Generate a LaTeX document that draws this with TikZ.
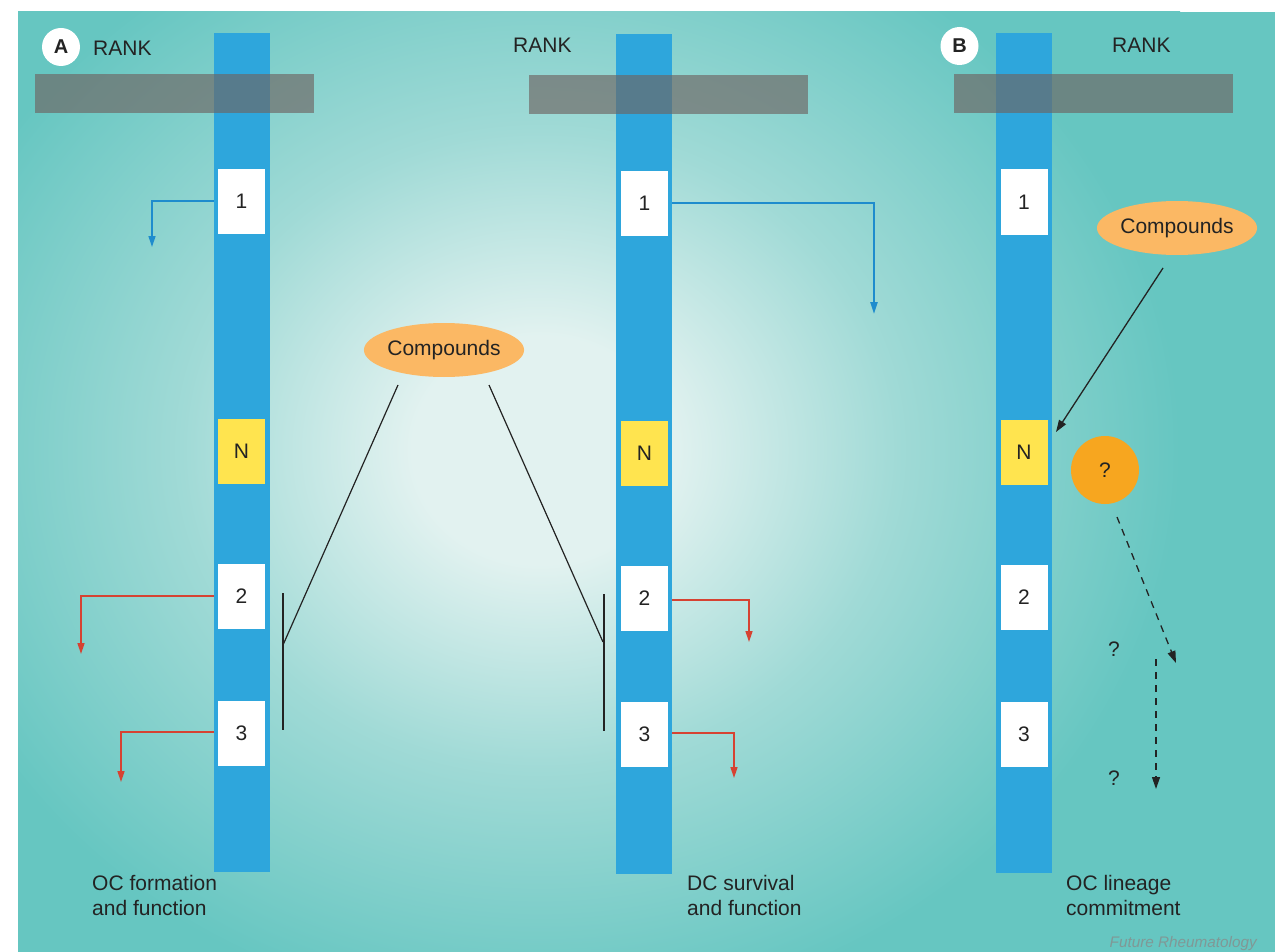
\documentclass[tikz,border=0pt]{standalone}
\usepackage{fontspec}
\setmainfont{Liberation Sans}
\usetikzlibrary{arrows.meta,shapes.geometric}

\definecolor{tealbg}{RGB}{102,198,193}
\definecolor{tealmid}{RGB}{160,218,214}
\definecolor{glowc}{RGB}{226,242,240}
\definecolor{barblue}{RGB}{46,166,220}
\definecolor{lineblue}{RGB}{30,140,205}
\definecolor{nyellow}{RGB}{255,228,79}
\definecolor{cmpdorange}{RGB}{251,184,100}
\definecolor{qorange}{RGB}{247,166,31}
\definecolor{redline}{RGB}{214,66,50}
\definecolor{bandgray}{RGB}{110,100,98}
\definecolor{txt}{RGB}{35,35,35}
\definecolor{creditgray}{RGB}{128,152,150}

\pgfdeclareradialshading{glow}{\pgfpoint{0bp}{0bp}}{%
  color(0bp)=(glowc); color(5bp)=(glowc); color(14bp)=(tealmid);
  color(25bp)=(tealbg); color(50bp)=(tealbg)}

\tikzset{
  bar/.style={fill=barblue, minimum width=56pt, inner sep=0pt, draw=none},
  band/.style={fill=bandgray, fill opacity=0.65, draw=none},
  numbox/.style={fill=white, minimum width=47pt, minimum height=65pt,
    inner sep=0pt, font=\fontsize{21}{25}\selectfont, text=txt},
  nbox/.style={numbox, fill=nyellow},
  cmpd/.style={ellipse, fill=cmpdorange, minimum width=156pt, minimum height=54pt,
    inner sep=0pt, font=\fontsize{21}{25}\selectfont, text=txt},
  lbl/.style={font=\fontsize{21}{25}\selectfont, text=txt, inner sep=0pt},
  caption/.style={lbl, align=left, anchor=base west},
  panel/.style={circle, fill=white, minimum size=38pt, inner sep=0pt,
    font=\fontsize{20}{24}\selectfont\bfseries, text=txt},
  bluearr/.style={draw=lineblue, line width=1.3pt,
    -{Triangle[width=7pt,length=11pt]}},
  bluearrbig/.style={draw=lineblue, line width=2.2pt,
    -{Triangle[width=7pt,length=12pt]}},
  redarr/.style={draw=redline, line width=1.5pt,
    -{Triangle[width=7pt,length=11pt]}},
  blk/.style={draw=txt, line width=1.2pt},
  inhib/.style={draw=txt, line width=2.4pt},
  blkarr/.style={draw=txt, line width=1.3pt, -{Triangle[width=8pt,length=12pt]}},
  dasharr/.style={draw=txt, line width=1.3pt, dash pattern=on 7pt off 6pt,
    -{Triangle[width=8pt,length=12pt]}}
}

\begin{document}
\begin{tikzpicture}[x=1pt,y=-1pt]
\useasboundingbox (0,0) rectangle (1282,952);
\fill[white] (0,0) rectangle (1282,952);

% background panel with a soft light glow
\begin{scope}
  \clip (18,12) rectangle (1275,952);
  \fill[tealbg] (18,12) rectangle (1275,952);
  \shade[shading=glow] (-100,-120) rectangle (1180,1020);
\end{scope}

% receptor columns
\node[bar, minimum height=839pt] (barA) at (242,452.5) {};
\node[bar, minimum height=840pt] (barB) at (644,454) {};
\node[bar, minimum height=840pt] (barC) at (1024,453) {};

% RANK bands across the top
\fill[band] (35,74) rectangle (314,113);
\fill[band] (529,75) rectangle (808,114);
\fill[band] (954,74) rectangle (1233,113);

% panel letters and RANK labels
\node[panel] (pA) at (61,47) {A};
\node[panel] (pB) at (959.5,46) {B};
\node[lbl, anchor=base west] (rankA) at (93,56) {RANK};
\node[lbl, anchor=base west] (rankB) at (513,53) {RANK};
\node[lbl, anchor=base west] (rankC) at (1112,53) {RANK};

% domains, left column
\node[numbox] (a1) at (241.5,201.5) {1};
\node[nbox]   (aN) at (241.5,451) {N};
\node[numbox] (a2) at (241.5,596) {2};
\node[numbox] (a3) at (241.5,733) {3};

% domains, middle column
\node[numbox] (b1) at (644.5,203.5) {1};
\node[nbox]   (bN) at (644.5,453) {N};
\node[numbox] (b2) at (644.5,598.5) {2};
\node[numbox] (b3) at (644.5,734.5) {3};

% domains, right column
\node[numbox] (c1) at (1024,202) {1};
\node[nbox]   (cN) at (1024,452) {N};
\node[numbox] (c2) at (1024,597) {2};
\node[numbox] (c3) at (1024,734) {3};

% signalling outputs, left column
\coordinate (a1end) at (152,247);
\coordinate (a2end) at (81,654);
\coordinate (a3end) at (121,782);
\draw[bluearr] (barA.west |- 0,201) -| (a1end);
\draw[redarr]  (barA.west |- 0,596) -| (a2end);
\draw[redarr]  (barA.west |- 0,732) -| (a3end);

% signalling outputs, middle column
\coordinate (b1end) at (874,314);
\coordinate (b2end) at (749,642);
\coordinate (b3end) at (734,778);
\draw[bluearrbig] (barB.east |- 0,203) -| (b1end);
\draw[redarr]     (barB.east |- 0,600) -| (b2end);
\draw[redarr]     (barB.east |- 0,733) -| (b3end);

% compounds blocking domains 2 and 3
\node[cmpd] (cmpA) at (444,350) {Compounds};
\coordinate (iAs) at (398,385);
\coordinate (iAe) at (283,645);
\coordinate (iAt) at (283,593);
\coordinate (iAb) at (283,730);
\coordinate (iBs) at (489,385);
\coordinate (iBe) at (603,642);
\coordinate (iBt) at (604,594);
\coordinate (iBb) at (604,731);
\draw[blk] (iAs) -- (iAe);
\draw[inhib] (iAt) -- (iAb);
\draw[blk] (iBs) -- (iBe);
\draw[inhib] (iBt) -- (iBb);

% compounds acting on the N domain
\node[cmpd, minimum width=153pt] (cmpB) at (1177,228) {Compounds};
\coordinate (kS) at (1163,268);
\coordinate (kE) at (1056,432);
\draw[blkarr] (kS) -- (kE);

% unknown partner and downstream steps
\node[circle, fill=qorange, minimum size=68pt, inner sep=0pt,
      font=\fontsize{21}{25}\selectfont, text=txt] (qc) at (1105,470) {?};
\coordinate (d1s) at (1117,517);
\coordinate (d1e) at (1176,663);
\coordinate (d2s) at (1156,659);
\coordinate (d2e) at (1156,789);
\draw[dasharr] (d1s) -- (d1e);
\draw[dasharr] (d2s) -- (d2e);
\node[lbl] (q1) at (1114,649) {?};
\node[lbl] (q2) at (1114,778) {?};

% captions
\node[caption] (capA) at (92,915) {OC formation\\and function};
\node[caption] (capB) at (687,915) {DC survival\\and function};
\node[caption] (capC) at (1066,915) {OC lineage\\commitment};

\node[anchor=base east, inner sep=0pt, text=creditgray,
      font=\fontsize{15.3}{18}\selectfont\itshape] (credit) at (1257,947)
      {Future Rheumatology};
\end{tikzpicture}
\end{document}
